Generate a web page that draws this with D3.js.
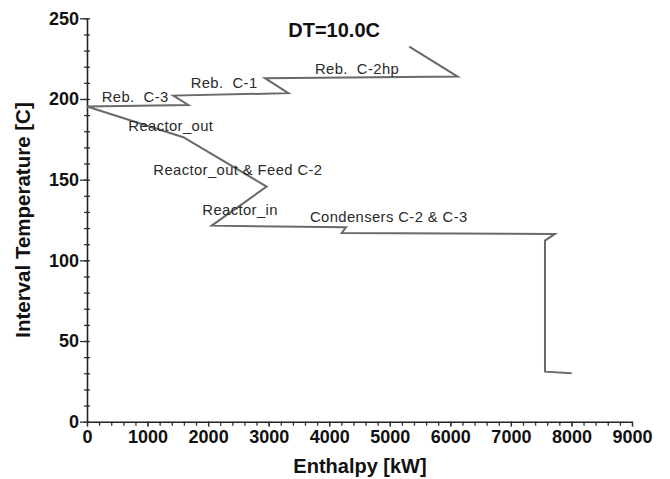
<html>
<head>
  <title>Grand composite curve</title>
  <script src="https://cdn.jsdelivr.net/npm/d3@7"></script>
  <style>
    body { margin: 0; background: #fff; }
    text { font-family: "Liberation Sans", Arial, sans-serif; }
  </style>
</head>
<body>
  <div id="chart"></div>
  <script>
    // curve points (bottom to top)
    var enthalpy = [8004, 7563, 7563, 7728, 4206, 4277, 2059, 2967, 1590, 0, 1673, 1425, 3325, 2939, 6121, 5322];
    var temperature = [30.0, 31.0, 112.2, 116.4, 117.0, 120.5, 121.5, 145.7, 176.3, 195.3, 196.3, 202.1, 203.6, 212.9, 213.9, 232.5];

    // annotations (text start position in data units)
    var labels = ["Reb.  C-3", "Reb.  C-1", "Reb.  C-2hp", "Reactor_out", "Reactor_out & Feed C-2", "Reactor_in", "Condensers C-2 & C-3"];
    var labelH = [243, 1712, 3765, 682, 1095, 1904, 3682];
    var labelT = [198.4, 206.7, 215.4, 180.2, 152.9, 128.1, 124.0];

    var title = "DT=10.0C";
    var titleH = 3324, titleT = 238.3;

    var xTicks = [0, 1000, 2000, 3000, 4000, 5000, 6000, 7000, 8000, 9000];
    var yTicks = [0, 50, 100, 150, 200, 250];

    const width = 670, height = 479;
    const margin = { top: 18.3, right: 38, bottom: 57.3, left: 87 };

    var svg = d3.select("#chart")
      .append("svg")
      .attr("width", width)
      .attr("height", height);

    var x = d3.scaleLinear()
      .domain([0, 9000])
      .range([margin.left, width - margin.right]);

    var y = d3.scaleLinear()
      .domain([0, 250])
      .range([height - margin.bottom, margin.top]);

    // minor ticks on x (every 200)
    svg.append("g")
      .attr("transform", "translate(0," + y(0) + ")")
      .call(d3.axisBottom(x).tickValues(d3.range(0, 9001, 200)).tickSize(4).tickFormat(""))
      .call(g => g.select(".domain").remove());

    // x axis with labels
    svg.append("g")
      .attr("class", "x axis")
      .attr("transform", "translate(0," + y(0) + ")")
      .call(d3.axisBottom(x).tickValues(xTicks).tickSize(5).tickPadding(4).tickSizeOuter(0).tickFormat(d3.format("d")))
      .call(g => g.selectAll("text").attr("font-size", 18).attr("font-weight", "bold").attr("fill", "#111"));

    // minor ticks on y (every 10), crossing the axis
    svg.append("g")
      .attr("transform", "translate(" + (x(0) + 3) + ",0)")
      .call(d3.axisLeft(y).tickValues(d3.range(0, 251, 10)).tickSize(6).tickFormat(""))
      .call(g => g.select(".domain").remove());

    // y axis with labels
    svg.append("g")
      .attr("class", "y axis")
      .attr("transform", "translate(" + x(0) + ",0)")
      .call(d3.axisLeft(y).tickValues(yTicks).tickSize(7).tickPadding(1).tickSizeOuter(0))
      .call(g => g.selectAll("text").attr("font-size", 18).attr("font-weight", "bold").attr("fill", "#111"));

    svg.selectAll(".domain").attr("stroke-width", 1.6).attr("stroke", "#222");
    svg.selectAll(".tick line").attr("stroke-width", 1.3).attr("stroke", "#333");

    // curve
    var pts = d3.zip(enthalpy, temperature);
    svg.append("path")
      .datum(pts)
      .attr("fill", "none")
      .attr("stroke", "#6a6a6a")
      .attr("stroke-width", 2)
      .attr("stroke-linejoin", "miter")
      .attr("d", d3.line().x(d => x(d[0])).y(d => y(d[1])));

    // annotations
    svg.selectAll("text.note")
      .data(labels)
      .enter()
      .append("text")
      .attr("class", "note")
      .attr("x", (d, i) => x(labelH[i]))
      .attr("y", (d, i) => y(labelT[i]))
      .attr("font-size", 14.8)
      .attr("letter-spacing", 0.4)
      .attr("fill", "#2a2a2a")
      .style("white-space", "pre")
      .text(d => d);

    svg.append("text")
      .attr("x", x(titleH))
      .attr("y", y(titleT))
      .attr("font-size", 20)
      .attr("font-weight", "bold")
      .attr("fill", "#111")
      .text(title);

    // axis titles
    svg.append("text")
      .attr("text-anchor", "middle")
      .attr("x", 360)
      .attr("y", 473)
      .attr("font-size", 20)
      .attr("font-weight", "bold")
      .attr("fill", "#111")
      .text("Enthalpy [kW]");

    svg.append("text")
      .attr("text-anchor", "middle")
      .attr("transform", "translate(30,220) rotate(-90)")
      .attr("font-size", 20.5)
      .attr("font-weight", "bold")
      .attr("fill", "#111")
      .text("Interval Temperature [C]");
  </script>
</body>
</html>
